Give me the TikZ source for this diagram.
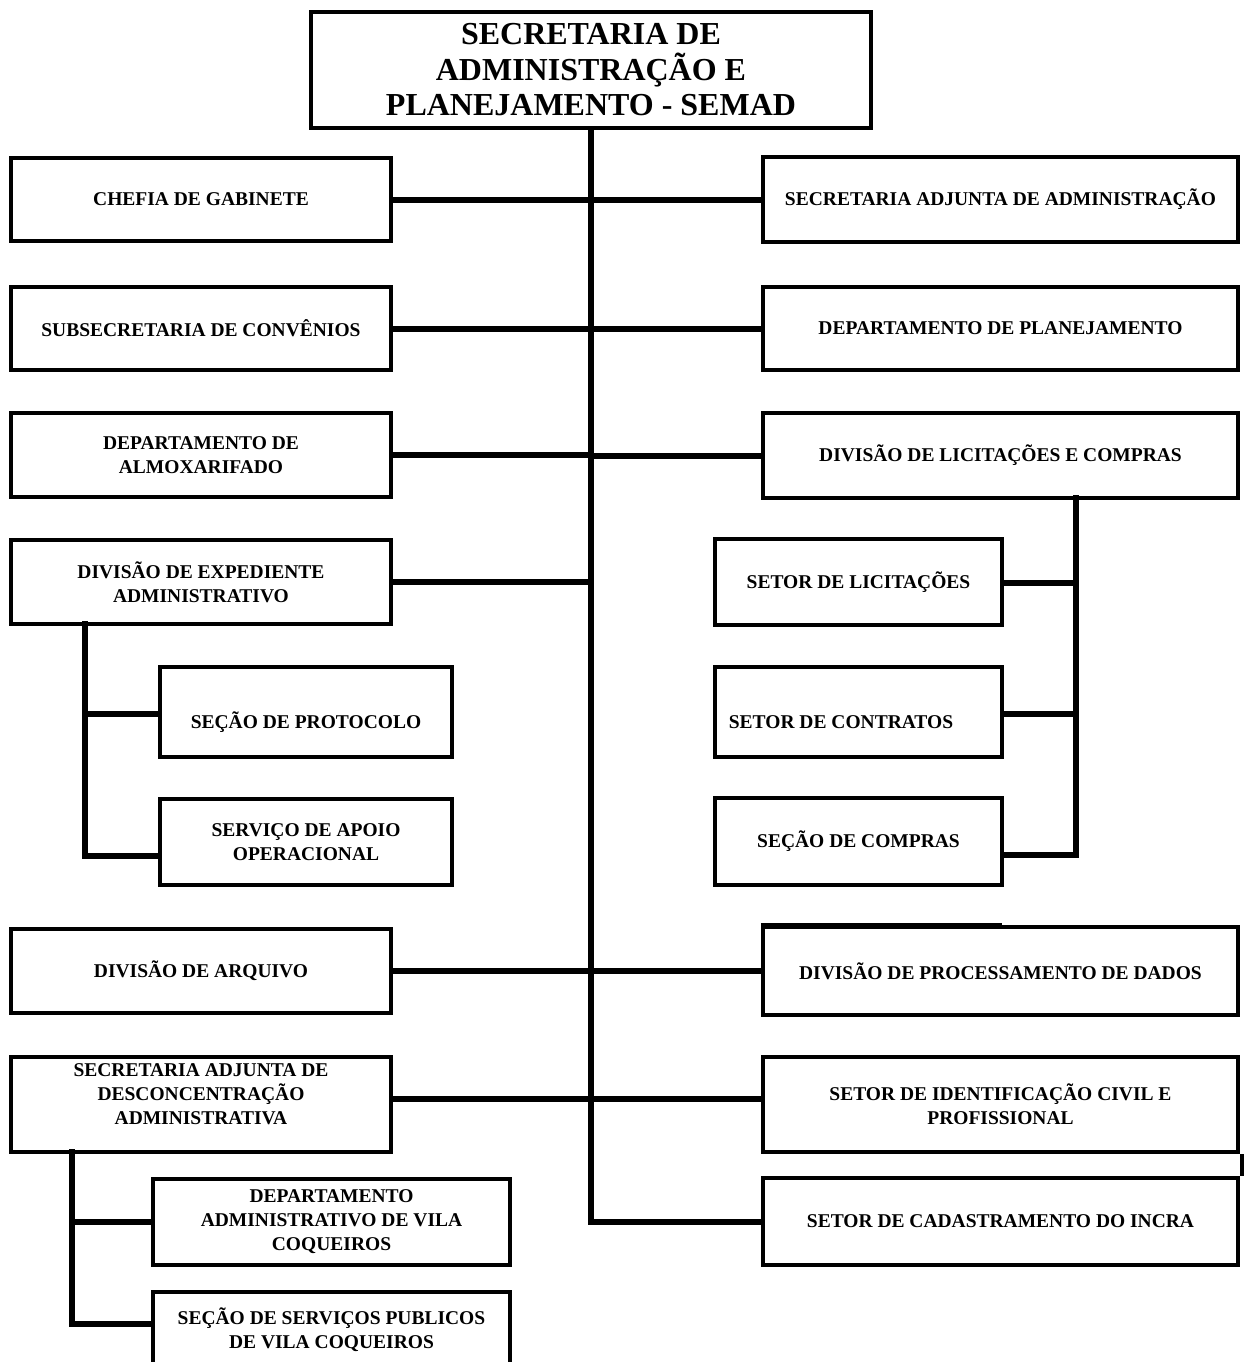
\documentclass[tikz,border=0pt]{standalone}
\usepackage{fontspec}
\setmainfont{Liberation Serif}
\begin{document}
\begin{tikzpicture}[x=1pt,y=-1pt,
  box/.style={draw, line width=4.5pt, inner sep=0pt, align=center,
    font=\bfseries\fontsize{19.5}{24}\selectfont},
  lbl/.style={inner sep=0pt, align=center, font=\bfseries\fontsize{19.5}{24}\selectfont},
  conn/.style={line width=6pt, line cap=rect, line join=miter},
  thin/.style={line width=4.5pt}]
\useasboundingbox (0,0) rectangle (1243,1362);

% top
\node[box, minimum width=560, minimum height=116,
  font=\bfseries\fontsize{32}{35.5}\selectfont] (top) at (591,70)
  {SECRETARIA DE\\ADMINISTRAÇÃO E\\PLANEJAMENTO - SEMAD};

% left column
\node[box, minimum width=380, minimum height=83] (chefia) at (201,199.5) {CHEFIA DE GABINETE};
\node[box, minimum width=380, minimum height=83] (subsec) at (201,328.5) {SUBSECRETARIA DE CONVÊNIOS};
\node[box, minimum width=380, minimum height=84] (almox) at (201,455) {DEPARTAMENTO DE\\ALMOXARIFADO};
\node[box, minimum width=380, minimum height=84] (exped) at (201,582) {DIVISÃO DE EXPEDIENTE\\ADMINISTRATIVO};
\node[box, minimum width=292, minimum height=90] (protoc) at (306,712) {};
\node[lbl] (protoct) at (306,722) {SEÇÃO DE PROTOCOLO};
\node[box, minimum width=292, minimum height=86] (apoio) at (306,842) {SERVIÇO DE APOIO\\OPERACIONAL};
\node[box, minimum width=380, minimum height=84] (arquivo) at (201,971) {DIVISÃO DE ARQUIVO};
\node[box, minimum width=380, minimum height=95] (desc) at (201,1104.5) {};
\node[lbl] (desct) at (201,1094) {SECRETARIA ADJUNTA DE\\DESCONCENTRAÇÃO\\ADMINISTRATIVA};
\node[box, minimum width=357, minimum height=86] (vila) at (331.5,1222) {DEPARTAMENTO\\ADMINISTRATIVO DE VILA\\COQUEIROS};
\node[box, minimum width=357, minimum height=80] (servpub) at (331.5,1332) {};
\node[lbl] (servpubt) at (331.5,1330) {SEÇÃO DE SERVIÇOS PUBLICOS\\DE VILA COQUEIROS};

% right column
\node[box, minimum width=475, minimum height=85] (secadj) at (1000.5,199.5) {SECRETARIA ADJUNTA DE ADMINISTRAÇÃO};
\node[box, minimum width=475, minimum height=83] (deplan) at (1000.5,328.5) {DEPARTAMENTO DE PLANEJAMENTO};
\node[box, minimum width=475, minimum height=85] (divlic) at (1000.5,455.5) {DIVISÃO DE LICITAÇÕES E COMPRAS};
\node[box, minimum width=287, minimum height=86] (setlic) at (858.5,582) {SETOR DE LICITAÇÕES};
\node[box, minimum width=287, minimum height=90] (contr) at (858.5,712) {};
\node[lbl] (contrt) at (841,722) {SETOR DE CONTRATOS};
\node[box, minimum width=287, minimum height=87] (compras) at (858.5,841.5) {SEÇÃO DE COMPRAS};
\node[box, minimum width=475, minimum height=88] (divproc) at (1000.5,971) {DIVISÃO DE PROCESSAMENTO DE DADOS};
\node[box, minimum width=475, minimum height=95] (ident) at (1000.5,1104.5) {SETOR DE IDENTIFICAÇÃO CIVIL E\\PROFISSIONAL};
\node[box, minimum width=475, minimum height=87] (cadas) at (1000.5,1221.5) {SETOR DE CADASTRAMENTO DO INCRA};

% trunk
\draw[conn] (top.south) -- (top.south |- cadas.west) -- (cadas.west);
\foreach \n in {chefia,subsec,almox,exped,arquivo}
  \draw[conn] (\n.east) -- (\n.east -| top.south);
\draw[conn] ([yshift=6pt]desc.east) -- ([yshift=6pt]desc.east -| top.south);
\foreach \n in {secadj,deplan,divlic,divproc}
  \draw[conn] (\n.west) -- (\n.west -| top.south);
\draw[conn] ([yshift=6pt]ident.west) -- ([yshift=6pt]ident.west -| top.south);

% left sub-tree 1
\coordinate (s1) at (85,624);
\draw[conn] (s1) -- (85,856) -- (apoio.west |- 0,856);
\draw[conn] (protoc.west |- 0,714) -- (85,714);

% left sub-tree 2
\coordinate (s2) at (72,1152);
\draw[conn] (s2) -- (72,1324) -- (servpub.west |- 0,1324);
\draw[conn] (vila.west) -- (72,1222);

% right sub-tree
\coordinate (s3) at (1076,498);
\draw[conn] (s3) -- (1076,855) -- (compras.east |- 0,855);
\draw[conn] (setlic.east |- 0,583) -- (1076,583);
\draw[conn] (contr.east |- 0,714) -- (1076,714);

% small artefacts
\draw[thin] (ident.south east) ++(1.5,0) coordinate (a1) -- (a1 |- cadas.north);
\coordinate (a2) at (1002,926);
\draw[line width=6pt] (divproc.north west |- a2) -- (a2);
\end{tikzpicture}
\end{document}
